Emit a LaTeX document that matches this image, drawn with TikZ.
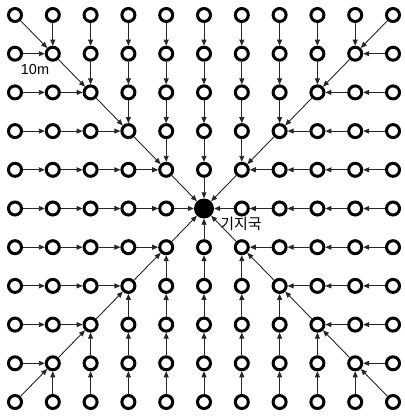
\documentclass[tikz,border=0pt]{standalone}
\usepackage{fontspec}
\setmainfont{Liberation Sans}
\newfontfamily\kr{Noto Sans CJK KR}
\usetikzlibrary{arrows.meta}
\begin{document}
\begin{tikzpicture}[x=1pt,y=-1pt,
  st/.style={circle,draw=black,line width=3pt,minimum size=13pt,inner sep=0pt},
  bs/.style={circle,fill=black,minimum size=20pt,inner sep=0pt},
  ar/.style={-{Triangle[length=6pt,width=5pt]},line width=0.9pt,draw=black!85},
  lbl/.style={inner sep=0pt,font=\fontsize{14.5pt}{16pt}\selectfont}]
\useasboundingbox (0,0) rectangle (404,417);
\foreach \i in {0,...,10}{
  \foreach \j in {0,...,10}{
    \ifnum\i=5 \ifnum\j=5
      \node[bs] (n-\i-\j) at ({15+37.8*\i},{15+38.7*\j}) {};
    \else
      \node[st] (n-\i-\j) at ({15+37.8*\i},{15+38.7*\j}) {};
    \fi\else
      \node[st] (n-\i-\j) at ({15+37.8*\i},{15+38.7*\j}) {};
    \fi
  }
}
\foreach \i in {0,...,10}{
  \foreach \j in {0,...,10}{
    \pgfmathtruncatemacro\di{\i-5}
    \pgfmathtruncatemacro\dj{\j-5}
    \pgfmathtruncatemacro\ti{abs(\di)>=abs(\dj) ? \i-sign(\di) : \i}
    \pgfmathtruncatemacro\tj{abs(\dj)>=abs(\di) ? \j-sign(\dj) : \j}
    \pgfmathtruncatemacro\nz{\di*\di+\dj*\dj}
    \ifnum\nz>0
      \draw[ar] (n-\i-\j) -- (n-\ti-\tj);
    \fi
  }
}
\node[lbl] (m) at (35,70) {10m};
\node[lbl,font=\kr\fontsize{15pt}{17pt}\selectfont] (bsl) at (241,224) {기지국};
\end{tikzpicture}
\end{document}
